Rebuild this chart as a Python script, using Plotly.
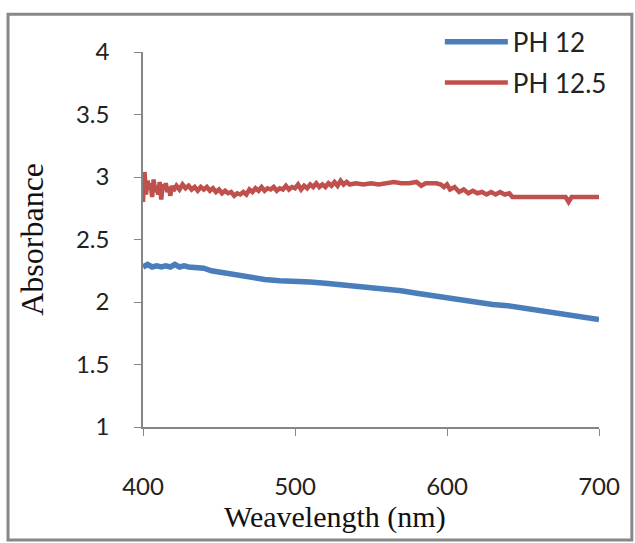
import plotly.graph_objects as go

# PH 12 (blue)
wl_ph12 = [400, 403, 406, 409, 412, 415, 418, 421, 424, 427, 430, 433, 436, 440, 445,
           450, 455, 460, 465, 470, 475, 480, 490, 500, 510, 520, 530, 540, 550, 560,
           570, 580, 590, 600, 610, 620, 630, 640, 650, 660, 670, 680, 690, 700]
abs_ph12 = [2.28, 2.30, 2.28, 2.29, 2.28, 2.29, 2.28, 2.30, 2.28, 2.29, 2.28, 2.28, 2.27, 2.27, 2.25,
            2.24, 2.22, 2.21, 2.20, 2.19, 2.19, 2.18, 2.17, 2.17, 2.16, 2.15, 2.14, 2.13, 2.12, 2.10,
            2.09, 2.07, 2.05, 2.04, 2.02, 2.00, 1.98, 1.97, 1.95, 1.93, 1.91, 1.90, 1.88, 1.86]

# PH 12.5 (red)
wl_ph125 = [400, 401, 402, 403, 404, 405, 406, 407, 408, 409, 410, 411, 412, 413, 414, 415, 416,
            417, 418, 419, 420, 422, 424, 426, 428, 430, 432, 434, 436, 438, 440, 442, 444, 446,
            448, 450, 452, 454, 456, 458, 460, 462, 464, 466, 468, 470, 472, 474, 476, 478, 480,
            482, 484, 486, 488, 490, 492, 494, 496, 498, 500, 502, 504, 506, 508, 510, 512, 514,
            516, 518, 520, 522, 524, 526, 528, 530, 532, 534, 536, 540, 545, 550, 555, 560, 565,
            570, 575, 580, 583, 586, 590, 593, 596, 598, 600, 602, 605, 608, 611, 614, 617, 620,
            623, 626, 629, 632, 635, 638, 641, 643, 650, 660, 670, 678, 680, 682, 690, 700]
abs_ph125 = [2.80, 3.04, 2.86, 2.97, 2.90, 2.95, 2.84, 2.98, 2.88, 2.93, 2.86, 2.96, 2.82, 2.94, 2.90, 2.95, 2.88,
             2.92, 2.85, 2.93, 2.89, 2.93, 2.90, 2.94, 2.91, 2.93, 2.90, 2.92, 2.89, 2.92, 2.90, 2.92, 2.89, 2.91,
             2.88, 2.90, 2.87, 2.89, 2.87, 2.88, 2.85, 2.87, 2.86, 2.88, 2.86, 2.90, 2.88, 2.91, 2.89, 2.92, 2.89,
             2.91, 2.90, 2.92, 2.89, 2.91, 2.90, 2.93, 2.90, 2.92, 2.91, 2.94, 2.90, 2.93, 2.91, 2.94, 2.92, 2.95,
             2.92, 2.94, 2.92, 2.95, 2.93, 2.96, 2.93, 2.97, 2.94, 2.96, 2.94, 2.95, 2.94, 2.95, 2.94, 2.95, 2.96,
             2.95, 2.95, 2.96, 2.93, 2.95, 2.95, 2.95, 2.94, 2.92, 2.94, 2.90, 2.92, 2.88, 2.90, 2.87, 2.89, 2.87,
             2.88, 2.86, 2.88, 2.86, 2.88, 2.86, 2.87, 2.84, 2.84, 2.84, 2.84, 2.84, 2.80, 2.84, 2.84, 2.84]

x_ticks = [400, 500, 600, 700]
y_ticks = [1, 1.5, 2, 2.5, 3, 3.5, 4]
y_tick_text = ["1", "1.5", "2", "2.5", "3", "3.5", "4"]

fig = go.Figure()
fig.add_trace(go.Scatter(x=wl_ph12, y=abs_ph12, mode="lines", name="PH 12",
                         line=dict(color="#4A7EBB", width=5.5), legendgroup="a"))
fig.add_trace(go.Scatter(x=wl_ph125, y=abs_ph125, mode="lines", name="PH 12.5",
                         line=dict(color="#C0504D", width=4.5), legendgroup="b"))

tick_font = dict(family="Lato", size=24, color="#222222")
fig.update_layout(
    width=635, height=543,
    margin=dict(l=143, r=36, t=52, b=116),
    paper_bgcolor="white", plot_bgcolor="white",
    showlegend=True,
    legend=dict(x=0.651, y=1.09, xanchor="left", yanchor="top",
                font=dict(family="Lato", size=26, color="#222222"),
                bgcolor="rgba(0,0,0,0)", itemwidth=63, tracegroupgap=4,
                traceorder="grouped"),
    xaxis=dict(range=[400, 700], tickvals=x_ticks, ticktext=[str(v) for v in x_ticks],
               showgrid=False, zeroline=False, showline=True, linecolor="#868686",
               linewidth=1.5, ticks="outside", ticklen=7, tickcolor="#868686",
               tickfont=tick_font, ticklabelstandoff=30),
    yaxis=dict(range=[1, 4], tickvals=y_ticks, ticktext=y_tick_text,
               showgrid=False, zeroline=False, showline=True, linecolor="#868686",
               linewidth=1.5, ticks="outside", ticklen=7, tickcolor="#868686",
               tickfont=tick_font, ticklabelstandoff=20),
    annotations=[
        dict(text="Weavelength (nm)", xref="paper", yref="paper", x=0.421, y=-0.24,
             xanchor="center", yanchor="middle", showarrow=False,
             font=dict(family="Liberation Serif", size=30, color="#111111")),
        dict(text="Absorbance", xref="paper", yref="paper", x=-0.245, y=0.5,
             xanchor="center", yanchor="middle", showarrow=False, textangle=-90,
             font=dict(family="Liberation Serif", size=32, color="#111111")),
    ],
    shapes=[
        dict(type="rect", xref="paper", yref="paper", x0=-0.296, x1=1.072,
             y0=-0.301, y1=1.101, line=dict(color="#888888", width=3),
             fillcolor="rgba(0,0,0,0)", layer="below"),
    ],
)

fig.write_html("out.html")
